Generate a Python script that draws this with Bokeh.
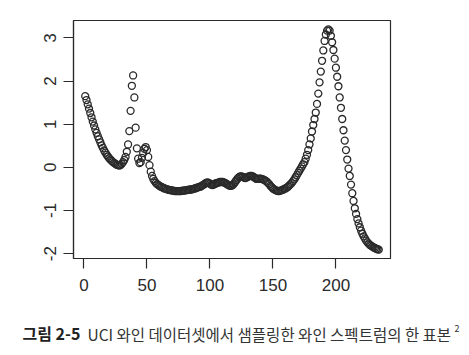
from bokeh.plotting import figure
from bokeh.models import Range1d, FixedTicker, Label
from bokeh.embed import file_html
from bokeh.resources import INLINE

# ---- data ----
spectrum = [
    1.65, 1.56, 1.46, 1.36, 1.26, 1.16, 1.06, 0.97, 0.88, 0.80,
    0.72, 0.65, 0.58, 0.51, 0.45, 0.39, 0.34, 0.29, 0.25, 0.21,
    0.18, 0.15, 0.12, 0.10, 0.08, 0.06, 0.05, 0.04, 0.05, 0.08,
    0.12, 0.17, 0.24, 0.36, 0.53, 0.84, 1.31, 1.89, 2.13, 1.62,
    0.92, 0.44, 0.20, 0.10, 0.12, 0.22, 0.33, 0.43, 0.47, 0.40,
    0.24, 0.05, -0.10, -0.20, -0.27, -0.32, -0.36, -0.39, -0.41, -0.43,
    -0.45, -0.46, -0.48, -0.49, -0.50, -0.51, -0.52, -0.53, -0.53, -0.54,
    -0.54, -0.55, -0.55, -0.55, -0.55, -0.55, -0.55, -0.54, -0.54, -0.54,
    -0.53, -0.53, -0.52, -0.52, -0.51, -0.51, -0.50, -0.49, -0.48, -0.47,
    -0.46, -0.45, -0.44, -0.42, -0.40, -0.38, -0.36, -0.35, -0.36, -0.38,
    -0.40, -0.41, -0.40, -0.38, -0.37, -0.36, -0.35, -0.34, -0.34, -0.34,
    -0.35, -0.36, -0.38, -0.40, -0.42, -0.43, -0.43, -0.41, -0.38, -0.34,
    -0.30, -0.26, -0.23, -0.21, -0.21, -0.22, -0.24, -0.25, -0.24, -0.22,
    -0.21, -0.20, -0.20, -0.21, -0.23, -0.25, -0.27, -0.27, -0.26, -0.26,
    -0.27, -0.28, -0.29, -0.31, -0.33, -0.36, -0.39, -0.43, -0.46, -0.49,
    -0.51, -0.53, -0.54, -0.55, -0.55, -0.54, -0.53, -0.52, -0.50, -0.49,
    -0.47, -0.45, -0.42, -0.39, -0.36, -0.32, -0.28, -0.23, -0.18, -0.13,
    -0.08, -0.03, 0.02, 0.07, 0.12, 0.20, 0.29, 0.40, 0.53, 0.67,
    0.83, 0.98, 1.12, 1.27, 1.47, 1.71, 1.97, 2.22, 2.47, 2.71,
    2.93, 3.08, 3.17, 3.20, 3.17, 3.05, 2.90, 2.72, 2.52, 2.31,
    2.10, 1.88, 1.62, 1.38, 1.12, 0.86, 0.62, 0.40, 0.18, -0.03,
    -0.20, -0.40, -0.60, -0.78, -0.95, -1.08, -1.20, -1.30, -1.39, -1.47,
    -1.54, -1.60, -1.65, -1.70, -1.74, -1.77, -1.80, -1.82, -1.84, -1.86,
    -1.87, -1.89, -1.90, -1.91,
]
index = list(range(1, len(spectrum) + 1))

x_ticks = [0, 50, 100, 150, 200]
y_ticks = [-2, -1, 0, 1, 2, 3]
caption_bold = "그림 2-5"
caption_rest = "UCI 와인 데이터셋에서 샘플링한 와인 스펙트럼의 한 표본"
caption_sup = "2"

# R-style 4% range padding
def padded(lo, hi, f=0.04):
    d = (hi - lo) * f
    return lo - d, hi + d

x0, x1 = padded(min(index), max(index))
y0, y1 = padded(min(spectrum), max(spectrum))

INK = "#2a2a2a"
W, H = 469, 355
LEFT, TOP, RIGHT, BOTTOM = 73, 20, 79, 97

p = figure(width=W, height=H, output_backend="svg", toolbar_location=None,
           x_range=Range1d(x0, x1), y_range=Range1d(y0, y1),
           min_border_left=LEFT, min_border_right=RIGHT,
           min_border_top=TOP, min_border_bottom=BOTTOM,
           background_fill_color="white", border_fill_color="white")

p.xgrid.visible = False
p.ygrid.visible = False
p.outline_line_color = INK
p.outline_line_width = 1.2
p.outline_line_alpha = 1.0

p.scatter(index, spectrum, marker="circle", size=7, fill_color=None,
          line_color=INK, line_width=1.3)

for ax, ticks in ((p.xaxis[0], x_ticks), (p.yaxis[0], y_ticks)):
    ax.ticker = FixedTicker(ticks=ticks)
    ax.major_label_overrides = {t: str(t) for t in ticks}
    ax.major_tick_out = 10
    ax.major_tick_in = 0
    ax.minor_tick_out = 0
    ax.minor_tick_in = 0
    ax.axis_line_color = INK
    ax.axis_line_width = 1.2
    ax.major_tick_line_color = INK
    ax.major_tick_line_width = 1.2
    ax.major_label_text_font = "Liberation Sans"
    ax.major_label_text_font_size = "17px"
    ax.major_label_text_color = INK

p.xaxis[0].major_label_standoff = 10
p.yaxis[0].major_label_standoff = 7
p.yaxis[0].major_label_orientation = "vertical"

# caption below the plot, in stacked side panels; y shifts put all three
# pieces on one line (positions are screen px relative to each panel)
p.add_layout(Label(x=22 - LEFT, y=-27, x_units="screen", y_units="screen",
                   text=caption_bold, text_font="Noto Sans CJK KR",
                   text_font_style="bold", text_font_size="16px",
                   text_color="#222222", text_baseline="bottom", text_align="left"),
             "below")
p.add_layout(Label(x=87 - LEFT, y=-5, x_units="screen", y_units="screen",
                   text=caption_rest, text_font="Noto Sans CJK KR",
                   text_font_size="15.5px", text_color="#333333",
                   text_baseline="bottom", text_align="left"),
             "below")
p.add_layout(Label(x=454 - LEFT, y=15, x_units="screen", y_units="screen",
                   text=caption_sup, text_font="Noto Sans CJK KR",
                   text_font_size="9px", text_color="#333333",
                   text_baseline="bottom", text_align="left"),
             "below")

open("out.html", "w").write(file_html(p, INLINE))
